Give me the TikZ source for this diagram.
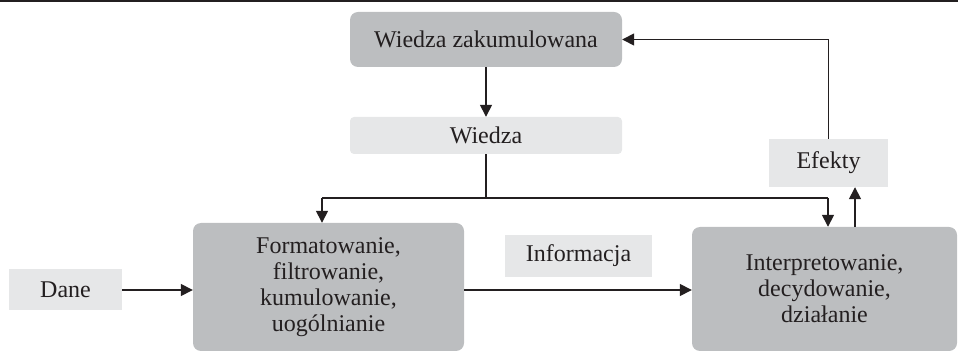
\documentclass[tikz,border=0pt]{standalone}
\usepackage{fontspec}
\setmainfont{Liberation Serif}
\usetikzlibrary{arrows.meta}
\definecolor{ink}{HTML}{231F20}
\definecolor{darkbox}{HTML}{BCBEC0}
\definecolor{lightbox}{HTML}{E6E7E8}
\tikzset{
  base/.style={inner sep=0pt, align=center, text=ink,
    font=\fontsize{24}{26}\selectfont},
  process/.style={base, fill=darkbox, rounded corners=8pt},
  flowlabel/.style={base, fill=lightbox},
  link/.style={draw=ink, line width=1.5pt},
  arr/.style={link, -{Triangle[length=12pt,width=12pt]}}
}
\begin{document}
\begin{tikzpicture}[x=1pt,y=-1pt]
  \useasboundingbox (0,0) rectangle (958,352);
  % rule along the top edge
  \fill[ink] (0,0) rectangle (958,2.5);

  % boxes
  \node[process, minimum width=272pt, minimum height=55pt] (wz) at (486,39.5) {Wiedza zakumulowana};
  \node[flowlabel, rounded corners=4pt, minimum width=272pt, minimum height=37pt] (wiedza) at (486,135.5) {Wiedza};
  \node[flowlabel, minimum width=113pt, minimum height=41pt] (dane) at (65.5,289.5) {Dane};
  \node[process, minimum width=271pt, minimum height=128pt] (form) at (328.5,287)
    {Formatowanie,\\filtrowanie,\\kumulowanie,\\uogólnianie};
  \node[flowlabel, minimum width=147pt, minimum height=42pt] (info) at (578.5,256) {Informacja};
  \node[process, minimum width=265pt, minimum height=124pt] (interp) at (824.5,289)
    {Interpretowanie,\\decydowanie,\\działanie};
  \node[flowlabel, minimum width=119pt, minimum height=48pt] (efekty) at (828.5,163) {Efekty};

  % branch points
  \coordinate (jl) at (322,198);
  \coordinate (jr) at (828,198);
  \coordinate (upx) at (855,0);
  \coordinate (flowy) at (0,290);

  % connectors
  \draw[arr] (wz.south) -- (wiedza.north);
  \draw[link] (wiedza.south) -- (wiedza.south |- jl);
  \draw[link] (jl) -- (jr);
  \draw[arr] (jl) -- (jl |- form.north);
  \draw[arr] (jr) -- (jr |- interp.north);
  \draw[arr] (dane.east |- flowy) -- (form.west |- flowy);
  \draw[arr] (form.east |- flowy) -- (interp.west |- flowy);
  \draw[arr] (interp.north -| upx) -- (efekty.south -| upx);
  \draw[arr] (efekty.north) |- (wz.east);
\end{tikzpicture}
\end{document}
